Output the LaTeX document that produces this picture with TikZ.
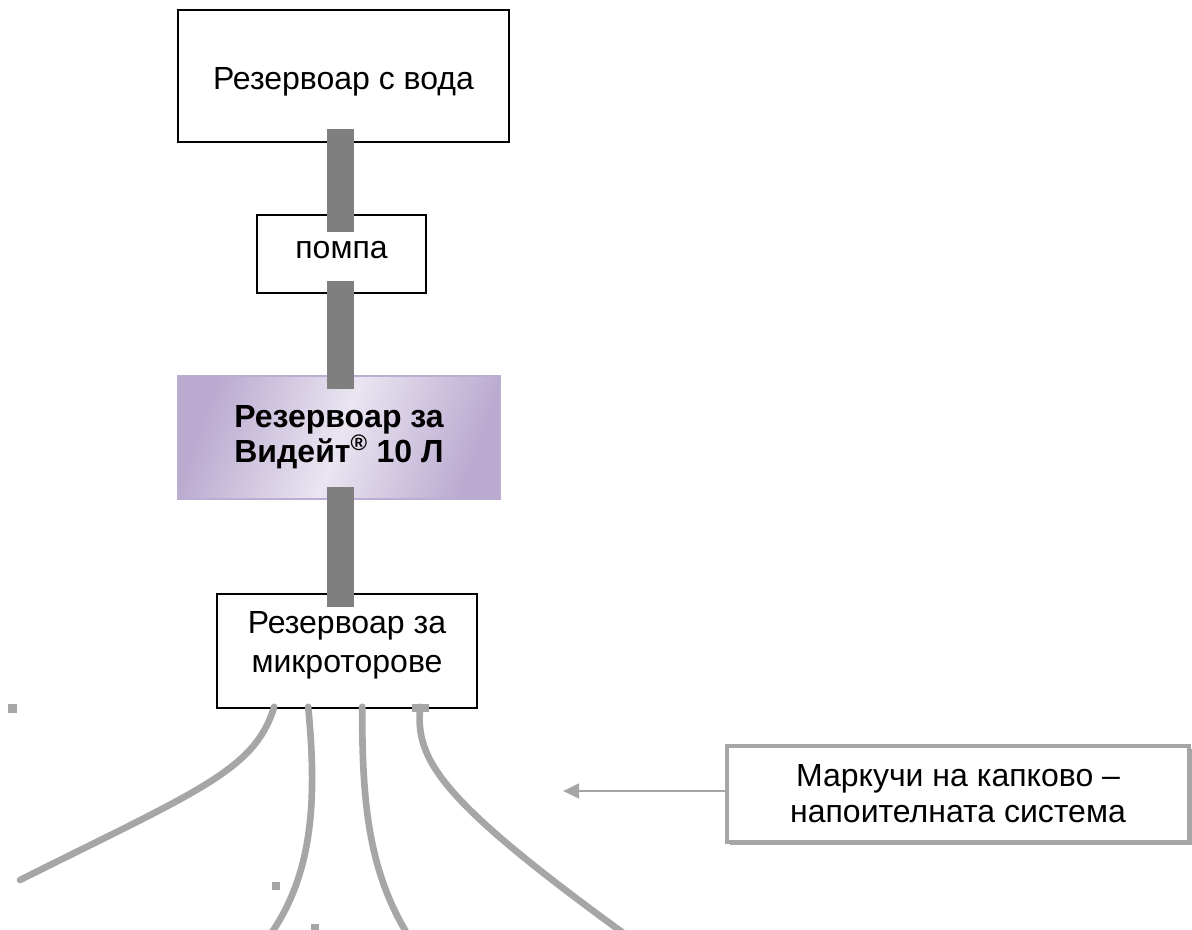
\documentclass[tikz,border=0pt]{standalone}
\usepackage{fontspec}
\setmainfont{Liberation Sans}
\usetikzlibrary{
  arrows.meta,
  calc,
  shadows,
}
\definecolor{pipegray}{HTML}{7F7F7F}
\definecolor{hosegray}{HTML}{A6A6A6}
\definecolor{lilacdark}{HTML}{BAAAD0}
\definecolor{lilaclight}{HTML}{EAE5F1}
\definecolor{lilacedge}{HTML}{BCADD3}
\tikzset{
  tank/.style={draw, line width=1.2pt, fill=white, inner sep=0pt, align=center,
    font=\fontsize{24}{26.5}\selectfont},
  pipe/.style={draw=pipegray, line width=20.25pt, shorten <=-10pt, shorten >=-10.5pt},
  hose/.style={draw=hosegray, line width=5pt, line cap=round},
  pointer/.style={draw=hosegray, line width=2pt, -{Triangle[length=12pt,width=11pt]}},
}
\begin{document}
\begin{tikzpicture}[x=0.75pt, y=-0.75pt]
  \useasboundingbox (0,0) rectangle (1192,930);
  \clip (0,0) rectangle (1192,930);
  \coordinate (axis) at (340.5,0);
  % boxes
  \node [tank, text height=25.5pt, text depth=5pt, minimum width=248pt, minimum height=99pt] (water) at (343.5,76) {Резервоар с вода};
  \node [tank, text height=12.5pt, text depth=6pt, minimum width=127pt, minimum height=58.5pt] (pump) at (341.5,254) {помпа};
  \node [tank, draw=lilacedge, line width=1.5pt, left color=lilacdark, right color=lilacdark,
    middle color=lilaclight, shading angle=70, font=\bfseries\fontsize{24}{26.5}\selectfont,
    minimum width=241.5pt, minimum height=92.25pt] (vidate) at (339,437.5)
    {Резервоар за\\Видейт\textsuperscript{®} 10 Л};
  \node [tank, font=\fontsize{24}{29}\selectfont, minimum width=195pt, minimum height=85.5pt]
    (micro) at (347,651) {Резервоар за\\микроторове\rule[-14pt]{0pt}{14pt}};
  \node [tank, draw=hosegray, line width=2.5pt, font=\fontsize{24}{27}\selectfont,
    drop shadow={shadow xshift=2pt, shadow yshift=-2pt, fill=hosegray, opacity=1},
    minimum width=346.5pt, minimum height=72pt] (drip) at (958,794)
    {Маркучи на капково –\\напоителната система};
  % pipes
  \draw [pipe, shorten >=-13.5pt] (water.south -| axis) -- (pump.north -| axis);
  \draw [pipe, shorten <=-9.75pt] (pump.south -| axis) -- (vidate.north -| axis);
  \draw [pipe, shorten <=-9.75pt] (vidate.south -| axis) -- (micro.north -| axis);
  % hoses
  \coordinate (end1) at (20,880);
  \coordinate (end2) at (270,935);
  \coordinate (end3) at (408,935);
  \coordinate (end4) at (626,935);
  \draw [hose] ($(micro.south west)+(58,-2)$) .. controls (255,770) and (200,790) .. (end1);
  \draw [hose] ($(micro.south west)+(92,-2)$) .. controls (316,790) and (316,870) .. (end2);
  \draw [hose] ($(micro.south west)+(146,-2)$) .. controls (362,800) and (368,870) .. (end3);
  \draw [hose] ($(micro.south west)+(204,-2)$) .. controls (415,760) and (440,800) .. (end4);
  \fill [hosegray] (412,704) rectangle (429,712);
  % specks
  \fill [hosegray] (8,704) rectangle (17,713);
  \fill [hosegray] (272,882) rectangle (280,890);
  \fill [hosegray] (311,924) rectangle (319,932);
  % label arrow
  \coordinate (tip) at (563,791);
  \draw [pointer] (drip.west |- tip) -- (tip);
\end{tikzpicture}
\end{document}
